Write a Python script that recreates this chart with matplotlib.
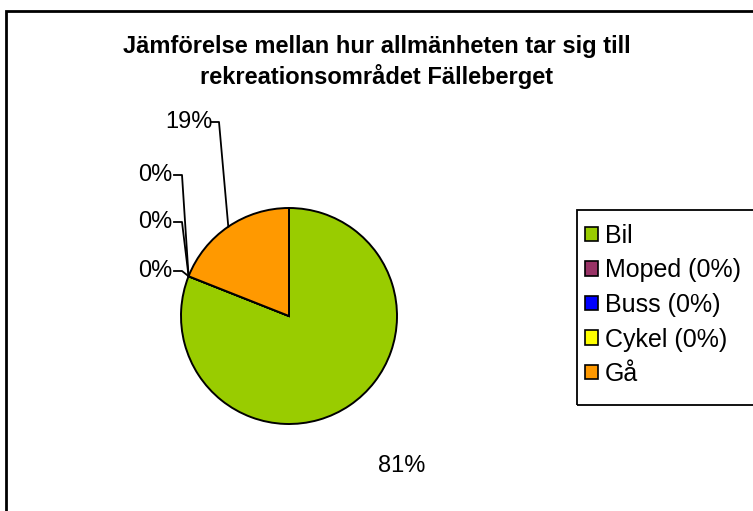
import matplotlib
matplotlib.use("Agg")
import matplotlib.pyplot as plt
import numpy as np
from matplotlib.patches import Rectangle

# data
categories = ["Bil", "Moped", "Buss", "Cykel", "Gå"]
shares = [81, 0, 0, 0, 19]
legend_labels = ["Bil", "Moped (0%)", "Buss (0%)", "Cykel (0%)", "Gå"]
colors = ["#99CC00", "#993366", "#0000FF", "#FFFF00", "#FF9900"]
title = "Jämförelse mellan hur allmänheten tar sig till\nrekreationsområdet Fälleberget"

plt.rcParams["font.family"] = ["Liberation Sans", "DejaVu Sans"]

W, H = 753, 511
fig = plt.figure(figsize=(W / 100, H / 100), dpi=100)

# outer chart frame (right/bottom cut off in the original)
fig.patches.append(Rectangle((6.5 / W, -0.05), 1.2, (H - 11.5) / H + 0.05,
                             transform=fig.transFigure, fill=False,
                             edgecolor="black", linewidth=2))

fig.text(0.5, 1 - 62 / H, title, ha="center", va="center",
         fontsize=17, fontweight="bold", linespacing=1.3)

# pie axes placed in pixels
cx, cy, r = 289, 316, 108
ax = fig.add_axes([(cx - r) / W, (H - cy - r) / H, 2 * r / W, 2 * r / H])
wedges, _ = ax.pie(shares, colors=colors, startangle=90, counterclock=False,
                   radius=1, wedgeprops=dict(edgecolor="black", linewidth=1.4))
ax.set_xlim(-1, 1)
ax.set_ylim(-1, 1)
ax.set_aspect("equal")
ax.axis("off")


def px(x, y):
    return (x - cx) / r, (cy - y) / r


total = sum(shares)
# label positions (pixel coords) for each slice
label_pos = [(402, 466), (155, 271), (155, 222), (155, 175), (189, 122)]
for i, (w, v) in enumerate(zip(wedges, shares)):
    mid = np.deg2rad((w.theta1 + w.theta2) / 2)
    anchor = (np.cos(mid), np.sin(mid))
    lx, ly = label_pos[i]
    txt = f"{round(100 * v / total)}%"
    tx, ty = px(lx, ly)
    ax.text(tx, ty, txt, ha="center", va="center", fontsize=17, clip_on=False)
    if i == 0:
        continue
    half = 22 if i == 4 else 19
    sx, sy = px(lx + half, ly)
    ex, ey = px(lx + half + 8, ly)
    ax.plot([sx, ex, anchor[0]], [sy, ey, anchor[1]], color="black",
            linewidth=1.3, clip_on=False)

# legend: frame drawn separately so padding matches the original
fig.patches.append(Rectangle((577 / W, 1 - 405 / H), 0.5, (405 - 210) / H,
                             transform=fig.transFigure, fill=False,
                             edgecolor="black", linewidth=1.3))
handles = [Rectangle((0, 0), 1, 1, facecolor=c, edgecolor="black", linewidth=1.2)
           for c in colors]
leg = fig.legend(handles, legend_labels, loc="upper left",
                 bbox_to_anchor=(585 / W, 1 - 224 / H), fontsize=18,
                 frameon=False, handlelength=0.5, handleheight=0.5,
                 handletextpad=0.3, labelspacing=0.42, borderpad=0,
                 borderaxespad=0)

fig.savefig("out.png", dpi=100)
